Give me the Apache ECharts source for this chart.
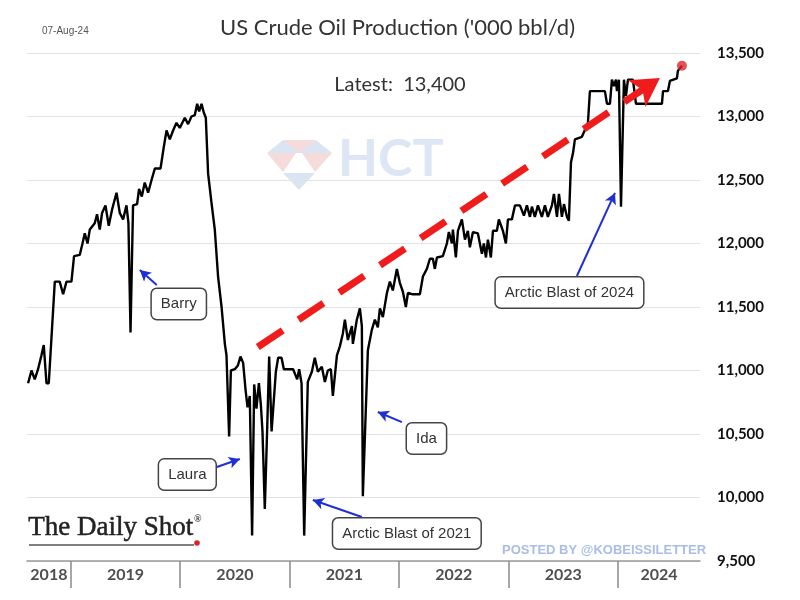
<!DOCTYPE html>
<html><head><meta charset="utf-8">
<script src="https://cdn.jsdelivr.net/npm/echarts@6/dist/echarts.min.js"></script>
<style>html,body{margin:0;padding:0;background:#fff}#c{width:800px;height:600px}</style>
</head><body><div id="c"></div>
<script>
// Week positions as decimal years, and production ('000 bbl/d)
const weeks = [
2018.610,2018.641,2018.671,2018.701,2018.732,2018.753,2018.778,2018.799,2018.854,2018.899,2018.930,2018.961,
2019.006,2019.030,2019.082,2019.107,2019.128,2019.153,2019.174,2019.219,2019.240,2019.265,2019.286,2019.317,2019.347,2019.378,2019.418,2019.448,2019.478,2019.509,2019.527,2019.546,2019.569,2019.606,2019.624,2019.649,2019.676,2019.707,2019.738,2019.768,2019.820,2019.850,2019.875,2019.905,2019.935,2019.966,2019.996,
2020.042,2020.072,2020.103,2020.133,2020.155,2020.173,2020.195,2020.216,2020.234,2020.255,2020.286,2020.316,2020.346,2020.378,2020.408,2020.423,2020.447,2020.463,2020.499,2020.527,2020.551,2020.575,2020.597,2020.615,2020.636,2020.657,2020.676,2020.697,2020.719,2020.737,2020.752,2020.773,2020.794,2020.813,2020.835,2020.849,2020.874,2020.895,2020.926,2020.947,2020.986,
2021.032,2021.069,2021.087,2021.109,2021.133,2021.166,2021.203,2021.230,2021.258,2021.294,2021.322,2021.349,2021.377,2021.395,2021.432,2021.459,2021.486,2021.505,2021.532,2021.569,2021.578,2021.614,2021.642,2021.660,2021.669,2021.715,2021.751,2021.779,2021.806,2021.825,2021.852,2021.889,2021.916,2021.943,2021.980,
2022.007,2022.035,2022.062,2022.081,2022.126,2022.190,2022.218,2022.254,2022.282,2022.309,2022.327,2022.346,2022.400,2022.437,2022.455,2022.483,2022.492,2022.519,2022.538,2022.574,2022.602,2022.629,2022.647,2022.675,2022.720,2022.757,2022.775,2022.794,2022.812,2022.839,2022.858,2022.894,2022.912,2022.949,2022.976,2022.995,
2023.031,2023.059,2023.104,2023.141,2023.168,2023.196,2023.214,2023.241,2023.269,2023.305,2023.333,2023.360,2023.397,2023.415,2023.443,2023.461,2023.488,2023.507,2023.534,2023.552,2023.571,2023.589,2023.607,2023.671,2023.726,2023.744,2023.881,2023.900,2023.927,2023.945,2023.964,2023.982,2023.991,
2024.009,2024.028,2024.055,2024.073,2024.092,2024.137,2024.165,2024.402,2024.412,2024.457,2024.475,2024.539,2024.548,2024.585
];
const production = [
10900,11000,10930,11010,11120,11200,10900,10900,11700,11700,11600,11700,
11700,11900,11910,12000,12080,12000,12110,12160,12230,12110,12240,12300,12140,12270,12400,12240,12190,12300,12160,11300,12300,12310,12430,12370,12480,12400,12500,12590,12590,12760,12890,12820,12890,12950,12910,
12990,12940,13000,13010,13100,13040,13100,13030,12990,12550,12320,12110,11740,11500,11210,11120,10480,11000,11010,11040,11110,11060,10850,10710,10800,9700,10890,10700,10900,10730,10520,9910,10520,11110,10520,10520,10990,11100,11100,11010,11010,
11010,10930,11010,10900,9700,10910,10990,11100,10990,11030,10910,11000,11010,10800,11120,11190,11290,11400,11240,11350,11210,11400,11490,11350,10010,11160,11320,11400,11340,11490,11420,11610,11700,11630,11800,
11690,11620,11500,11610,11600,11600,11740,11800,11880,11880,11800,11890,11900,12000,12090,12000,12110,11890,12100,12190,12030,12100,11970,12090,12080,11920,12000,11890,12030,11890,12100,12100,12190,12100,12000,12190,
12190,12300,12300,12220,12300,12210,12290,12210,12300,12210,12300,12210,12300,12390,12210,12390,12210,12310,12210,12180,12640,12710,12820,12840,12950,13200,13200,13100,13100,13290,13240,13290,13200,
13290,12290,13290,13160,13290,13290,13100,13100,13200,13200,13280,13300,13360,13400
];
const yearLabels = ['2018','2019','2020','2021','2022','2023','2024'];
const yearCenters = [2018.8,2019.5,2020.5,2021.5,2022.5,2023.5,2024.375];
const yearBreaks = [2019,2020,2021,2022,2023,2024];
const xMin = 2018.6, xMax = 2024.75;
const yMin = 9500, yMax = 13500, yStep = 500;
const latestText = 'Latest:  13,400';
const trendStart = [2020.709, 11185];
const trendEnd = [2024.384, 13303];
const calloutText = ['Barry','Laura','Arctic Blast of 2021','Ida','Arctic Blast of 2024'];
const calloutBox = [[2019.987,11524],[2020.065,10181],[2022.071,9717],[2022.250,10465],[2023.557,11614]];
const calloutFrom = [[2019.786,11673],[2020.335,10240],[2021.660,9846],[2022.026,10594],[2023.625,11744]];
const calloutTo = [[2019.631,11791],[2020.545,10303],[2021.212,9980],[2021.806,10673],[2023.973,12398]];

const fmt = v => String(v).replace(/\B(?=(\d{3})+(?!\d))/g, ',');
const lineData = weeks.map((w, i) => [w, production[i]]);
const last = lineData[lineData.length - 1];

const chart = echarts.init(document.getElementById('c'));
chart.setOption({
  animation: false,
  backgroundColor: '#fff',
  title: [
    {text: "US Crude Oil Production ('000 bbl/d)", left: 215, top: 12,
     textStyle: {fontFamily: 'Lato', fontWeight: 'normal', fontSize: 22, color: '#333'}},
    {text: latestText, left: 'center', top: 70,
     textStyle: {fontFamily: 'Lato', fontWeight: 'normal', fontSize: 20, color: '#333'}},
    {text: '07-Aug-24', left: 37, top: 21,
     textStyle: {fontFamily: 'Liberation Sans Narrow, Liberation Sans', fontWeight: 'normal', fontSize: 10, color: '#555'}}
  ],
  grid: [
    {left: 27, right: 100, top: 53, bottom: 39},
    {left: 27, right: 100, top: 561, height: 27}
  ],
  xAxis: [
    {type: 'value', gridIndex: 0, min: xMin, max: xMax,
     axisLine: {show: true, onZero: false, lineStyle: {color: '#9a9a9a', width: 1.5}},
     axisTick: {show: false}, axisLabel: {show: false}, splitLine: {show: false}},
    {type: 'value', gridIndex: 1, min: xMin, max: xMax, show: false}
  ],
  yAxis: [
    {type: 'value', gridIndex: 0, position: 'right', min: yMin, max: yMax, interval: yStep,
     axisLine: {show: false}, axisTick: {show: false},
     axisLabel: {margin: 17, color: '#111', fontWeight: 'bold', fontSize: 15, fontFamily: 'Lato', formatter: fmt},
     splitLine: {lineStyle: {color: '#e2e2e2', width: 1.2}}},
    {type: 'value', gridIndex: 1, min: 0, max: 1, show: false}
  ],
  graphic: [
    {type: 'polygon', silent: true, shape: {points: [[283,140],[267,153],[299,153]]}, style: {fill: 'rgba(175,195,228,0.45)'}},
    {type: 'polygon', silent: true, shape: {points: [[283,140],[316,140],[299,153]]}, style: {fill: 'rgba(235,175,175,0.45)'}},
    {type: 'polygon', silent: true, shape: {points: [[316,140],[332,153],[299,153]]}, style: {fill: 'rgba(175,195,228,0.45)'}},
    {type: 'polygon', silent: true, shape: {points: [[267,153],[296,153],[283,172]]}, style: {fill: 'rgba(235,175,175,0.45)'}},
    {type: 'polygon', silent: true, shape: {points: [[302,153],[332,153],[315,172]]}, style: {fill: 'rgba(235,175,175,0.45)'}},
    {type: 'polygon', silent: true, shape: {points: [[283,173],[315,173],[299,190]]}, style: {fill: 'rgba(175,195,228,0.45)'}},
    {type: 'text', silent: true, left: 338, top: 133, style: {text: 'HCT', font: 'bold 52px Lato', fill: 'rgba(175,195,228,0.42)'}},
    {type: 'text', silent: true, left: 28, top: 514, style: {text: 'The Daily Shot', font: '27px "Liberation Serif"', fill: '#222', stroke: '#222', lineWidth: 0.5}},
    {type: 'line', silent: true, shape: {x1: 29, y1: 545, x2: 194, y2: 545}, style: {stroke: '#555', lineWidth: 1.5}},
    {type: 'text', silent: true, left: 194, top: 514, style: {text: '®', font: 'bold 10px "Liberation Serif"', fill: '#333'}},
    {type: 'circle', silent: true, shape: {cx: 197, cy: 543, r: 2.8}, style: {fill: '#d8232a'}},
    {type: 'text', silent: true, left: 502, top: 544, style: {text: 'POSTED BY @KOBEISSILETTER', font: 'bold 13px "Liberation Sans"', fill: '#aabde9'}}
  ],
  series: [
    {type: 'line', name: 'production', xAxisIndex: 0, yAxisIndex: 0, data: lineData,
     symbol: 'none', lineStyle: {color: '#000', width: 2.4}, z: 3},
    {type: 'line', name: 'trend', xAxisIndex: 0, yAxisIndex: 0, data: [], z: 4,
     markLine: {silent: true, animation: false, symbol: ['none', 'arrow'], symbolSize: [24, 28],
       label: {show: false},
       lineStyle: {color: '#f01c1c', width: 7, type: [30, 19], cap: 'butt', opacity: 1},
       data: [[{coord: trendStart}, {coord: trendEnd}]]}},
    {type: 'scatter', name: 'latest', xAxisIndex: 0, yAxisIndex: 0, data: [last],
     symbolSize: 10, itemStyle: {color: '#e0262b'}, z: 5},
    {type: 'line', name: 'callouts', xAxisIndex: 0, yAxisIndex: 0, data: [], z: 6,
     markLine: {silent: true, animation: false, symbol: ['none', 'arrow'], symbolSize: [9, 11],
       label: {show: false},
       lineStyle: {color: '#1f2fd6', width: 2, type: 'solid', opacity: 1},
       data: calloutFrom.map((f, i) => [{coord: f}, {coord: calloutTo[i]}])},
     markPoint: {silent: true, animation: false, symbol: 'rect', symbolSize: 1,
       itemStyle: {color: 'rgba(0,0,0,0)'},
       label: {show: true, position: 'inside', formatter: p => p.name, color: '#333', fontSize: 15,
         fontFamily: 'Liberation Sans', backgroundColor: '#fff', borderColor: '#444', borderWidth: 1.5,
         borderRadius: 5, padding: [8, 9, 7, 9]},
       data: calloutText.map((t, i) => ({name: t, coord: calloutBox[i]}))}},
    {type: 'scatter', name: 'years', xAxisIndex: 1, yAxisIndex: 1, symbolSize: 1,
     itemStyle: {color: 'rgba(0,0,0,0)'},
     label: {show: true, position: 'inside', formatter: p => p.name, color: '#222', fontWeight: 'bold', fontSize: 16, fontFamily: 'Lato'},
     data: yearCenters.map((c, i) => ({name: yearLabels[i], value: [c, 0.5]})),
     markLine: {silent: true, animation: false, symbol: ['none', 'none'], label: {show: false},
       lineStyle: {color: '#8a8a8a', width: 1.5, type: 'solid'},
       data: yearBreaks.map(b => ({xAxis: b}))}}
  ]
});
</script>
</body></html>
